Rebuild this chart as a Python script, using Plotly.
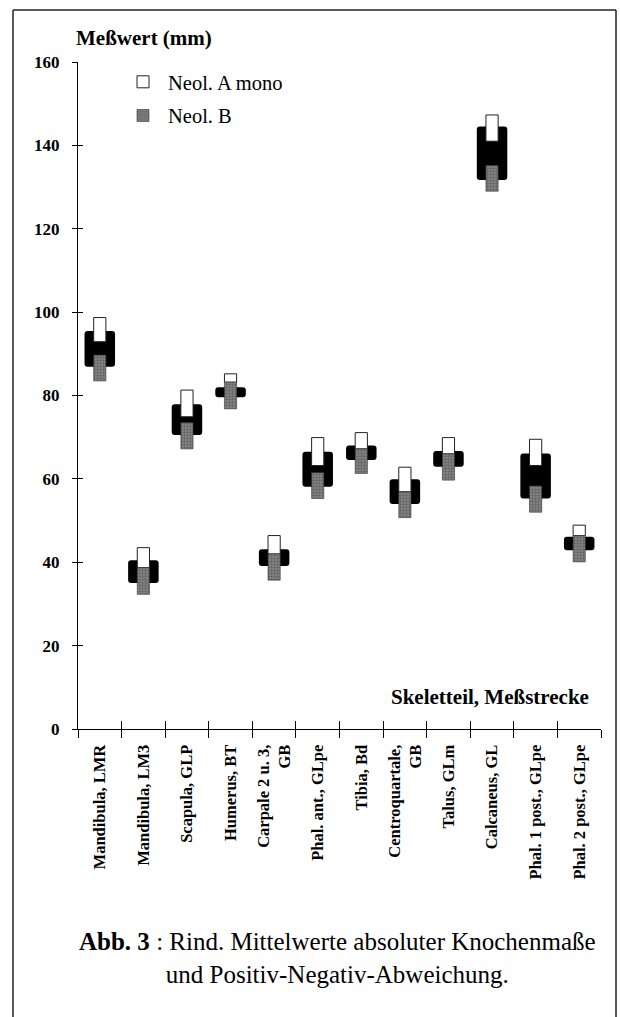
import plotly.graph_objects as go

# Skeletal elements and measured distances
categories = [
    "Mandibula, LMR", "Mandibula, LM3", "Scapula, GLP", "Humerus, BT",
    "Carpale 2 u. 3,<br>GB", "Phal. ant., GLpe", "Tibia, Bd",
    "Centroquartale,<br>GB", "Talus, GLm", "Calcaneus, GL",
    "Phal. 1 post., GLpe", "Phal. 2 post., GLpe",
]

# Neol. A mono: upper deviation range (mm)
a_low = [92.9, 38.7, 74.9, 83.2, 42.0, 63.2, 67.2, 56.9, 66.0, 141.0, 63.2, 46.4]
a_high = [98.7, 43.5, 81.3, 85.2, 46.4, 69.9, 71.1, 62.8, 69.9, 147.3, 69.5, 48.9]

# Neol. B: lower deviation range (mm)
b_low = [83.5, 32.3, 67.2, 76.8, 35.7, 55.3, 61.3, 50.7, 59.7, 129.0, 52.0, 40.1]
b_high = [89.7, 38.7, 73.5, 83.2, 42.0, 61.5, 67.2, 56.9, 66.0, 135.2, 58.3, 46.4]

# Band of the mean values (mm)
band_low = [86.9, 35.0, 70.5, 79.6, 39.1, 58.1, 64.5, 54.0, 62.9, 131.7, 55.3, 42.9]
band_high = [95.5, 40.5, 77.9, 82.0, 43.1, 66.5, 68.0, 59.9, 66.7, 144.5, 66.1, 46.1]

y_ticks = [0, 20, 40, 60, 80, 100, 120, 140, 160]

SERIF = "Liberation Serif"
W, H = 620, 1017
L, R, T, B = 78, 601, 62, 729  # plot area in pixels


def px_x(px):
    return (px - L) / (R - L)


def px_y(py):
    return (B - py) / (B - T)


fig = go.Figure()

fig.add_trace(go.Bar(
    x=categories, y=[h - l for l, h in zip(band_low, band_high)], base=band_low,
    width=0.70, marker=dict(color="black", line=dict(width=0), cornerradius=3),
    showlegend=False, hoverinfo="skip",
))
fig.add_trace(go.Bar(
    name="Neol. A mono",
    x=categories, y=[h - l for l, h in zip(a_low, a_high)], base=a_low,
    width=0.28, marker=dict(color="white", line=dict(color="#222", width=1)),
    legendgroup="a",
))
fig.add_trace(go.Bar(
    name="Neol. B",
    x=categories, y=[h - l for l, h in zip(b_low, b_high)], base=b_low,
    width=0.28,
    marker=dict(
        color="#767676", line=dict(color="#333", width=0.6),
        pattern=dict(shape=".", fgcolor="#444444", bgcolor="#878787",
                     size=3, solidity=0.5),
    ),
    legendgroup="b",
))
# carrier for the inner tick marks
fig.add_trace(go.Scatter(x=[], y=[], xaxis="x2", yaxis="y2", showlegend=False))

xtick_font = dict(family=SERIF, size=16.5, color="black", weight="bold")
ytick_font = dict(family=SERIF, size=17, color="black", weight="bold")

fig.update_layout(
    width=W, height=H,
    margin=dict(l=L, r=W - R, t=T, b=H - B, pad=0),
    paper_bgcolor="white", plot_bgcolor="white",
    barmode="overlay",
    font=dict(family=SERIF, color="black"),
    xaxis=dict(
        type="category", categoryarray=categories, range=[-0.5, 11.5],
        tickson="boundaries", ticks="outside", ticklen=8, tickwidth=1.3,
        tickcolor="black", tickangle=-90, tickfont=xtick_font,
        ticklabelstandoff=8,
        showline=True, linecolor="black", linewidth=1.3,
        showgrid=False, zeroline=False, fixedrange=True,
    ),
    yaxis=dict(
        range=[0, 160], tickvals=y_ticks, ticks="outside", ticklen=5,
        tickwidth=1.3, tickcolor="black", tickfont=ytick_font,
        ticklabelstandoff=9,
        showline=True, linecolor="black", linewidth=1.3,
        showgrid=False, zeroline=False, fixedrange=True,
    ),
    xaxis2=dict(
        overlaying="x", anchor="y2", range=[-0.5, 11.5],
        tickvals=[i - 0.5 for i in range(len(categories) + 1)],
        ticks="inside", ticklen=8, tickwidth=1.3, tickcolor="black",
        showticklabels=False, showline=False, showgrid=False, zeroline=False,
    ),
    yaxis2=dict(
        overlaying="y", anchor="x2", range=[0, 160], tickvals=y_ticks,
        ticks="inside", ticklen=5, tickwidth=1.3, tickcolor="black",
        showticklabels=False, showline=False, showgrid=False, zeroline=False,
    ),
    legend=dict(
        x=px_x(118), y=px_y(62), xanchor="left", yanchor="top",
        font=dict(family=SERIF, size=20.5, color="black"),
        bgcolor="rgba(0,0,0,0)", tracegroupgap=4, itemwidth=40,
    ),
    showlegend=True,
)

fig.add_annotation(
    text="<b>Meßwert (mm)</b>", xref="paper", yref="paper",
    x=px_x(74), y=px_y(38), xanchor="left", yanchor="middle",
    showarrow=False, font=dict(family=SERIF, size=21),
)
fig.add_annotation(
    text="<b>Skeletteil, Meßstrecke</b>", xref="paper", yref="paper",
    x=px_x(591), y=px_y(697), xanchor="right", yanchor="middle",
    showarrow=False, font=dict(family=SERIF, size=21),
)
fig.add_annotation(
    text="<b>Abb. 3</b> : Rind. Mittelwerte absoluter Knochenmaße<br>und Positiv-Negativ-Abweichung.",
    xref="paper", yref="paper", x=px_x(337), y=px_y(958),
    xanchor="center", yanchor="middle", align="center",
    showarrow=False, font=dict(family=SERIF, size=25),
)

# frame around the figure
for x0, y0, x1, y1 in [(13, 10, 13, 1017), (13, 10, 616, 10), (616, 10, 616, 1017)]:
    fig.add_shape(
        type="line", xref="paper", yref="paper",
        x0=px_x(x0), y0=px_y(y0), x1=px_x(x1), y1=px_y(y1),
        line=dict(color="#222", width=1.5),
    )

fig.write_html("out.html")
